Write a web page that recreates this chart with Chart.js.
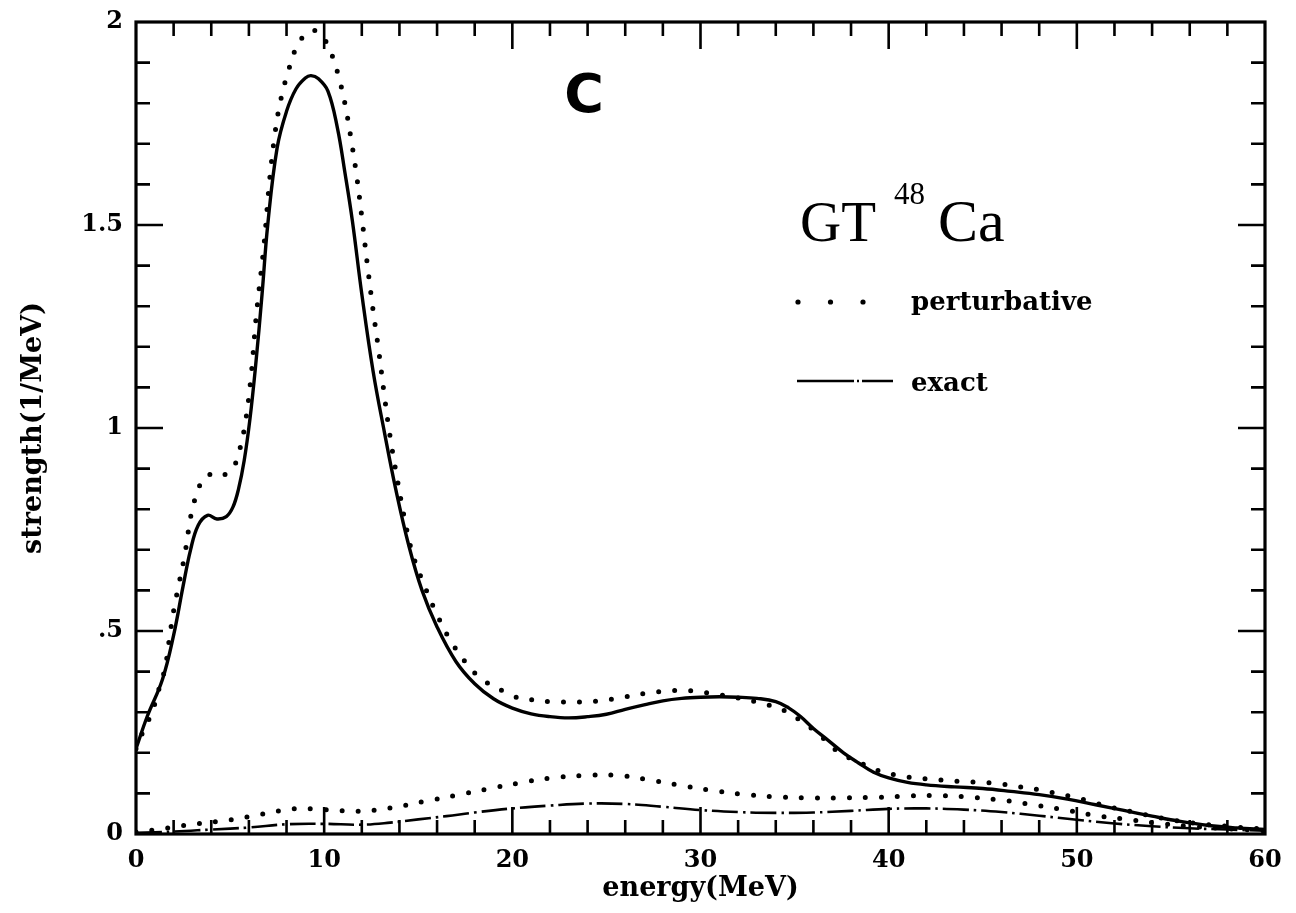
<!DOCTYPE html>
<html>
<head>
<meta charset="utf-8">
<script src="https://cdn.jsdelivr.net/npm/chart.js@4.4.0/dist/chart.umd.min.js"></script>
<style>
  html, body { margin: 0; padding: 0; background: #fff; }
</style>
</head>
<body>
<canvas id="gtChart" width="1296" height="913"></canvas>
<script>
// exact (solid), upper curve
const exactE = [0, 0.6, 1.4, 2.0, 2.5, 2.9, 3.3, 3.8, 4.3, 4.8, 5.15, 5.45, 5.75, 6.05, 6.35, 6.7, 7.0, 7.5, 8.0, 8.5, 9.0, 9.3, 9.7, 10.2, 10.7, 11.1, 11.5, 12.0, 12.6, 13.2, 13.8, 14.5, 15.2, 16.0, 17.0, 18.0, 19.0, 20.0, 21.0, 22.0, 23.0, 24.0, 25.0, 26.0, 27.0, 28.0, 29.0, 30.0, 31.0, 32.0, 33.0, 34.0, 34.7, 35.3, 36.0, 36.8, 37.6, 38.4, 39.2, 40.0, 41.0, 42.0, 43.5, 45.0, 46.5, 48.0, 49.5, 51.0, 52.5, 54.0, 55.5, 57.0, 58.5, 60.0];
const exactS = [0.21, 0.29, 0.38, 0.49, 0.61, 0.70, 0.76, 0.785, 0.776, 0.782, 0.805, 0.85, 0.92, 1.02, 1.15, 1.33, 1.50, 1.69, 1.78, 1.835, 1.862, 1.868, 1.86, 1.83, 1.74, 1.63, 1.51, 1.33, 1.14, 0.99, 0.85, 0.71, 0.60, 0.51, 0.425, 0.37, 0.333, 0.31, 0.296, 0.289, 0.286, 0.289, 0.295, 0.307, 0.318, 0.328, 0.334, 0.337, 0.338, 0.337, 0.334, 0.326, 0.31, 0.29, 0.26, 0.23, 0.20, 0.175, 0.152, 0.138, 0.127, 0.121, 0.116, 0.112, 0.105, 0.097, 0.086, 0.072, 0.058, 0.044, 0.031, 0.021, 0.015, 0.011];

// perturbative (dotted), upper curve
const pertE = [0, 0.4, 0.85, 1.3, 1.55, 1.8, 2.0, 2.3, 2.6, 2.9, 3.1, 3.4, 3.8, 4.3, 4.8, 5.2, 5.5, 5.8, 6.1, 6.4, 6.8, 7.1, 7.4, 7.7, 8.1, 8.5, 9.0, 9.4, 9.9, 10.4, 10.8, 11.1, 11.4, 11.7, 12.0, 12.3, 12.6, 12.9, 13.2, 13.5, 13.9, 14.3, 14.7, 15.3, 16.0, 16.8, 17.8, 18.5, 19.2, 20.0, 21.0, 22.0, 23.0, 24.0, 25.0, 26.0, 27.0, 28.0, 29.0, 30.0, 31.0, 32.0, 33.0, 34.0, 34.7, 35.3, 35.9, 36.5, 37.1, 37.8, 38.6, 39.4, 40.3, 41.1, 42.0, 43.0, 44.0, 45.0, 46.0, 47.0, 48.0, 49.0, 50.0, 51.0, 52.0, 53.0, 54.0, 55.0, 56.0, 57.0, 58.0, 59.0, 60.0];
const pertS = [0.21, 0.255, 0.30, 0.37, 0.41, 0.49, 0.55, 0.62, 0.69, 0.78, 0.82, 0.86, 0.885, 0.88, 0.887, 0.905, 0.945, 1.01, 1.12, 1.28, 1.45, 1.61, 1.73, 1.81, 1.88, 1.935, 1.97, 1.98, 1.965, 1.92, 1.86, 1.80, 1.72, 1.63, 1.52, 1.40, 1.29, 1.19, 1.08, 0.98, 0.87, 0.77, 0.69, 0.615, 0.54, 0.47, 0.407, 0.377, 0.36, 0.34, 0.331, 0.326, 0.325, 0.326, 0.33, 0.338, 0.346, 0.351, 0.354, 0.35, 0.343, 0.335, 0.325, 0.312, 0.298, 0.28, 0.26, 0.237, 0.21, 0.19, 0.173, 0.157, 0.146, 0.14, 0.136, 0.132, 0.129, 0.127, 0.123, 0.116, 0.109, 0.099, 0.089, 0.076, 0.064, 0.054, 0.044, 0.035, 0.028, 0.023, 0.019, 0.015, 0.012];

// perturbative (dotted), lower curve
const pertLowE = [0, 1, 2, 3.35, 5.05, 6.7, 8.4, 10.1, 11.8, 13.5, 15.3, 17.0, 18.7, 20.4, 22.1, 23.8, 25.4, 27.2, 28.9, 30.5, 32.2, 33.9, 35.7, 37.4, 39.1, 40.8, 42.5, 44.2, 45.9, 47.7, 49.4, 51.1, 52.8, 54.6, 56.3, 58.0, 60.0];
const pertLowS = [0.005, 0.01, 0.017, 0.026, 0.035, 0.049, 0.062, 0.06, 0.056, 0.064, 0.08, 0.095, 0.111, 0.126, 0.138, 0.144, 0.145, 0.134, 0.12, 0.108, 0.098, 0.092, 0.089, 0.089, 0.09, 0.093, 0.095, 0.091, 0.084, 0.072, 0.059, 0.045, 0.035, 0.025, 0.018, 0.013, 0.008];

// exact (dash-dot), lower curve
const exactLowE = [0, 2, 4, 6, 8, 10, 12, 13.5, 15, 16.5, 18, 20, 22, 24, 26, 28, 30, 32, 34, 36, 38, 40, 42, 44, 46, 48, 50, 52, 54, 56, 58, 60];
const exactLowS = [0.003, 0.006, 0.011, 0.016, 0.024, 0.025, 0.023, 0.028, 0.036, 0.044, 0.053, 0.063, 0.07, 0.075, 0.074, 0.067, 0.059, 0.054, 0.052, 0.053, 0.057, 0.062, 0.063, 0.06, 0.054, 0.045, 0.035, 0.026, 0.019, 0.014, 0.011, 0.008];

const xTicks = [0, 10, 20, 30, 40, 50, 60];
const yTicks = [0, 0.5, 1, 1.5, 2];

const pts = (xs, ys) => xs.map((v, i) => ({x: v, y: ys[i]}));

const serif = '"DejaVu Serif", serif';

// inward ticks on all four sides plus the frame
const frameTicks = {
  id: 'frameTicks',
  afterDatasetsDraw(chart) {
    const {ctx, chartArea: a, scales: {x, y}} = chart;
    ctx.save();
    ctx.strokeStyle = '#000';
    ctx.lineWidth = 2.6;
    ctx.beginPath();
    for (let e = 2; e < 60; e += 2) {
      const px = x.getPixelForValue(e);
      const len = e % 10 === 0 ? 27 : 14;
      ctx.moveTo(px, a.bottom); ctx.lineTo(px, a.bottom - len);
      ctx.moveTo(px, a.top); ctx.lineTo(px, a.top + len);
    }
    for (let i = 1; i < 20; i++) {
      const py = y.getPixelForValue(i / 10);
      const len = i % 5 === 0 ? 27 : 14;
      ctx.moveTo(a.left, py); ctx.lineTo(a.left + len, py);
      ctx.moveTo(a.right, py); ctx.lineTo(a.right - len, py);
    }
    ctx.stroke();
    ctx.lineWidth = 3.2;
    ctx.strokeRect(a.left, a.top, a.right - a.left, a.bottom - a.top);
    ctx.restore();
  }
};

// title, panel letter and legend inside the plot
const notes = {
  id: 'notes',
  afterDraw(chart) {
    const {ctx} = chart;
    ctx.save();
    ctx.fillStyle = '#000';
    ctx.textBaseline = 'alphabetic';
    ctx.textAlign = 'left';
    ctx.font = '57px "Liberation Serif", serif';
    ctx.fillText('GT', 800, 241);
    ctx.font = '60px "Liberation Serif", serif';
    ctx.fillText('Ca', 938, 241);
    ctx.font = '31px "Liberation Serif", serif';
    ctx.fillText('48', 894, 204);

    ctx.font = 'bold 54px "DejaVu Sans", sans-serif';
    ctx.textAlign = 'center';
    ctx.fillText('C', 584, 112);

    // perturbative sample
    for (const dx of [798, 830.5, 863]) {
      ctx.beginPath();
      ctx.arc(dx, 302, 2.6, 0, Math.PI * 2);
      ctx.fill();
    }
    // exact sample
    ctx.strokeStyle = '#000';
    ctx.lineWidth = 2.6;
    ctx.beginPath();
    ctx.moveTo(797, 381); ctx.lineTo(854, 381);
    ctx.moveTo(857, 381); ctx.lineTo(859, 381);
    ctx.moveTo(862, 381); ctx.lineTo(893, 381);
    ctx.stroke();

    ctx.textAlign = 'left';
    ctx.font = 'bold 26px ' + serif;
    ctx.fillText('perturbative', 911, 310);
    ctx.fillText('exact', 911, 391);
    ctx.restore();
  }
};

const lineStyle = {
  borderColor: '#000',
  pointRadius: 0,
  tension: 0.4,
};

new Chart(document.getElementById('gtChart').getContext('2d'), {
  type: 'line',
  data: {
    datasets: [
      {
        ...lineStyle,
        label: 'exact',
        data: pts(exactE, exactS),
        borderWidth: 3.4,
      },
      {
        ...lineStyle,
        label: 'perturbative',
        data: pts(pertE, pertS),
        borderWidth: 5,
        borderDash: [0, 16],
        borderCapStyle: 'round',
      },
      {
        ...lineStyle,
        label: 'perturbative low',
        data: pts(pertLowE, pertLowS),
        borderWidth: 5,
        borderDash: [0, 16],
        borderCapStyle: 'round',
      },
      {
        ...lineStyle,
        label: 'exact low',
        data: pts(exactLowE, exactLowS),
        borderWidth: 2.6,
        borderDash: [26, 5, 2.5, 5],
      },
    ],
  },
  options: {
    responsive: false,
    animation: false,
    layout: {padding: {top: 22, right: 31, left: 0, bottom: 0}},
    plugins: {
      legend: {display: false},
      tooltip: {enabled: false},
    },
    scales: {
      x: {
        type: 'linear',
        min: 0,
        max: 60,
        afterBuildTicks: (s) => { s.ticks = xTicks.map(v => ({value: v})); },
        ticks: {
          color: '#000',
          font: {family: serif, size: 24, weight: 'bold'},
          padding: 12,
          maxRotation: 0,
        },
        grid: {display: false, drawTicks: false},
        border: {display: false},
        title: {
          display: true,
          text: 'energy(MeV)',
          color: '#000',
          font: {family: serif, size: 27, weight: 'bold'},
          padding: {top: 0, bottom: 8},
        },
        afterFit: (s) => { s.height = 79; s.paddingLeft = 0; s.paddingRight = 0; },
      },
      y: {
        type: 'linear',
        min: 0,
        max: 2,
        afterBuildTicks: (s) => { s.ticks = yTicks.map(v => ({value: v})); },
        ticks: {
          color: '#000',
          font: {family: serif, size: 24, weight: 'bold'},
          padding: 13,
          callback: (v) => String(v).replace(/^0\./, '.'),
        },
        grid: {display: false, drawTicks: false},
        border: {display: false},
        title: {
          display: true,
          text: 'strength(1/MeV)',
          color: '#000',
          font: {family: serif, size: 27, weight: 'bold'},
          padding: {top: 18, bottom: 0},
        },
        afterFit: (s) => { s.width = 136; s.paddingTop = 0; s.paddingBottom = 0; },
      },
    },
  },
  plugins: [frameTicks, notes],
});
</script>
</body>
</html>
